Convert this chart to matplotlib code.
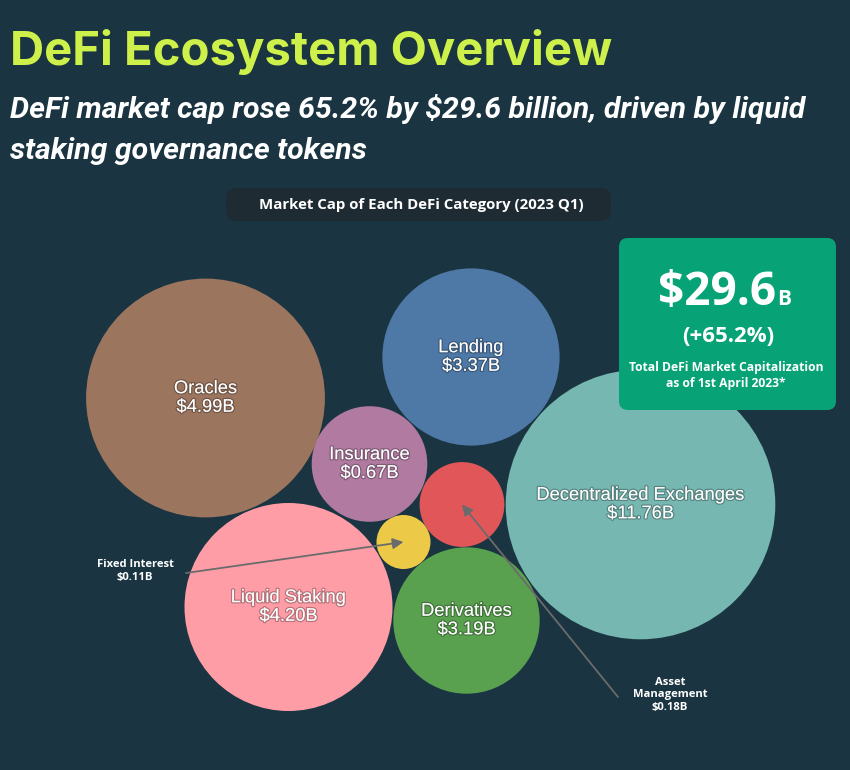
import numpy as np
import matplotlib
matplotlib.use("Agg")
import matplotlib.pyplot as plt
from matplotlib.patches import Circle, FancyBboxPatch
import matplotlib.patheffects as pe

# ---------------- data ----------------
categories = ["Oracles", "Lending", "Insurance", "Asset Management", "Fixed Interest",
              "Decentralized Exchanges", "Derivatives", "Liquid Staking"]
values = [4.99, 3.37, 0.67, 0.18, 0.11, 11.76, 3.19, 4.20]   # $B
colors = ["#9c755f", "#4e79a7", "#b07aa1", "#e15759", "#edc948",
          "#76b7b2", "#59a14f", "#ff9da7"]
inside_label = [True, True, True, False, False, True, True, True]

total_cap = 29.6
growth_pct = 65.2

# layout (packed bubble centres, in figure pixel space)
cx = [205.5, 471, 369.5, 462, 403.5, 640.5, 466.5, 288.5]
cy = [398, 357, 464, 504.5, 542, 504.5, 620.5, 607]
r_min, r_step = 27.0, 15.4

BG = "#1a3541"
fig = plt.figure(figsize=(8.5, 7.7), dpi=100, facecolor=BG)
ax = fig.add_axes([0, 0, 1, 1])
ax.set_xlim(0, 850)
ax.set_ylim(770, 0)
ax.set_facecolor(BG)
ax.axis("off")

# ---------------- titles ----------------
ax.text(10, 52, "DeFi Ecosystem Overview", color="#cdf04a",
        fontsize=34, fontweight="bold", family="Inter", va="center", ha="left")
sub_lines = ["DeFi market cap rose 65.2% by $29.6 billion, driven by liquid",
             "staking governance tokens"]
for i, line in enumerate(sub_lines):
    ax.text(10, 109 + 42 * i, line, color="white", fontsize=21.8,
            fontweight="bold", fontstyle="italic", family="Roboto",
            va="center", ha="left")

# chart title pill
pill = FancyBboxPatch((226, 188), 385, 33, boxstyle="round,pad=0,rounding_size=10",
                      facecolor="#1f2b33", edgecolor="none", zorder=2)
ax.add_patch(pill)
ax.text(421, 204.5, "Market Cap of Each DeFi Category (2023 Q1)", color="white",
        fontsize=10.8, fontweight="bold", family="Open Sans", ha="center", va="center",
        zorder=3)

# ---------------- bubbles ----------------
vals = np.array(values)
ranks = np.argsort(np.argsort(vals))
radii = r_min + r_step * ranks

stroke = [pe.withStroke(linewidth=1.8, foreground=(0, 0, 0, 0.28))]
for i, cat in enumerate(categories):
    ax.add_patch(Circle((cx[i], cy[i]), radii[i], facecolor=colors[i],
                        edgecolor="none", zorder=3))
    if inside_label[i]:
        ax.text(cx[i], cy[i], f"{cat}\n${values[i]:.2f}B", color="white",
                fontsize=13.2, family="Liberation Sans", ha="center", va="center",
                linespacing=1.12, zorder=5, path_effects=stroke)

# outside annotations for small bubbles
ann = {
    "Fixed Interest": dict(text_xy=(135, 571), start=(186, 573)),
    "Asset Management": dict(text_xy=(670, 695), start=(618, 697)),
}
for cat, a in ann.items():
    i = categories.index(cat)
    label = cat if cat != "Asset Management" else "Asset\nManagement"
    ax.text(a["text_xy"][0], a["text_xy"][1], f"{label}\n${values[i]:.2f}B",
            color="white", fontsize=8.1, fontweight="bold", family="Open Sans",
            ha="center", va="center", linespacing=1.2, zorder=6)
    ax.annotate("", xy=(cx[i], cy[i]), xytext=a["start"],
                arrowprops=dict(arrowstyle="-|>", color="#6b6b6b", lw=1.3,
                                mutation_scale=16, shrinkA=0, shrinkB=0),
                zorder=6)

# ---------------- KPI box ----------------
box = FancyBboxPatch((619, 238), 217, 172, boxstyle="round,pad=0,rounding_size=9",
                     facecolor="#07a376", edgecolor="none", zorder=7)
ax.add_patch(box)
ax.text(776, 305, f"${total_cap:.1f}", color="white", fontsize=33,
        fontweight="bold", family="Open Sans", ha="right", va="baseline", zorder=8)
ax.text(777, 305, "B", color="white", fontsize=15, fontweight="bold",
        family="Open Sans", ha="left", va="baseline", zorder=8)
ax.text(728, 337, f"(+{growth_pct:.1f}%)", color="white", fontsize=16,
        fontweight="bold", family="Open Sans", ha="center", va="center", zorder=8)
ax.text(726, 367, "Total DeFi Market Capitalization", color="white", fontsize=8.7,
        fontweight="bold", family="Open Sans", ha="center", va="center", zorder=8)
ax.text(726, 384, "as of 1st April 2023*", color="white", fontsize=8.7,
        fontweight="bold", family="Open Sans", ha="center", va="center", zorder=8)

fig.savefig("out.png", dpi=100, facecolor=BG)
